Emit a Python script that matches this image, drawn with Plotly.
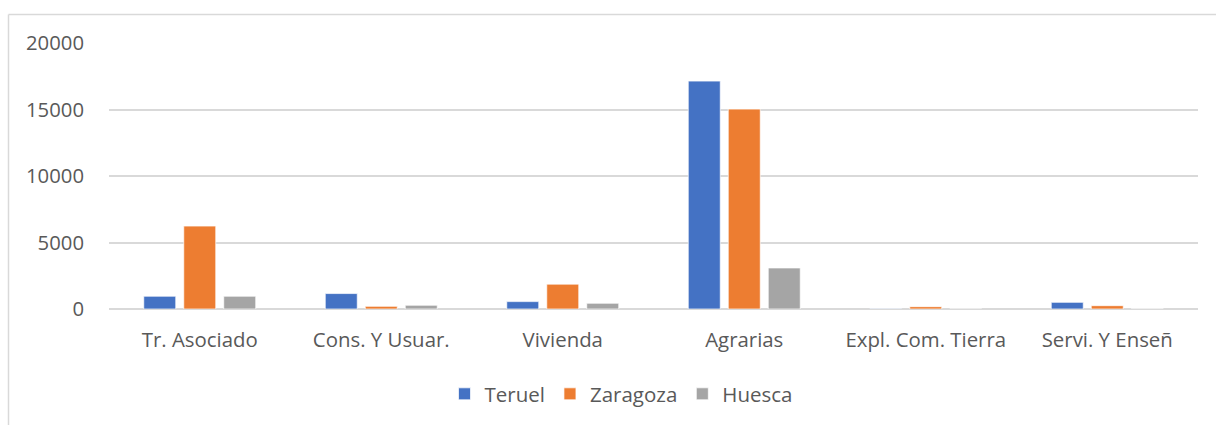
import plotly.graph_objects as go

categories = ["Tr. Asociado", "Cons. Y Usuar.", "Vivienda", "Agrarias", "Expl. Com. Tierra", "Servi. Y Enseñ"]
teruel = [960, 1160, 555, 17135, 15, 500]
zaragoza = [6235, 200, 1870, 15030, 175, 250]
huesca = [960, 280, 430, 3085, 10, 20]
series_names = ["Teruel", "Zaragoza", "Huesca"]
series_colors = ["#4472C4", "#ED7D31", "#A5A5A5"]
y_ticks = [0, 5000, 10000, 15000, 20000]

W, H = 1216, 425
L, R, T, B = 109, 18, 43, 116
pw = W - L - R
ph = H - T - B

fig = go.Figure()
for name, vals, col in zip(series_names, [teruel, zaragoza, huesca], series_colors):
    fig.add_trace(go.Bar(
        x=categories, y=vals, name=name,
        marker=dict(color=col, line=dict(color="rgba(255,255,255,0.7)", width=1)),
    ))

def px_x(p):
    return (p - L) / pw

def px_y(p):
    return (H - B - p) / ph

fig.update_layout(
    width=W, height=H,
    margin=dict(l=L, r=R, t=T, b=B, autoexpand=False),
    barmode="group", bargap=0.339, bargroupgap=0.2,
    paper_bgcolor="white", plot_bgcolor="white",
    font=dict(family="Open Sans", size=20, color="#595959"),
    showlegend=True,
    legend=dict(orientation="h", x=px_x(621), y=px_y(394), xanchor="center", yanchor="middle",
                font=dict(size=20.5, color="#595959"), itemwidth=30, traceorder="normal",
                bgcolor="rgba(0,0,0,0)"),
    xaxis=dict(showgrid=False, showline=False, ticks="", ticklabelstandoff=17,
               tickfont=dict(size=20.4, color="#595959")),
    yaxis=dict(range=[0, 20000], tickvals=y_ticks, ticktext=[str(v) for v in y_ticks],
               showgrid=True, gridcolor="#D9D9D9", gridwidth=1.5, zeroline=True,
               zerolinecolor="#D9D9D9", zerolinewidth=1.5, showline=False, ticks="",
               ticklabelstandoff=24, tickfont=dict(size=20.3, color="#595959")),
    shapes=[
        dict(type="line", xref="paper", yref="paper", x0=px_x(8.5), x1=px_x(1216), y0=px_y(14.5), y1=px_y(14.5),
             line=dict(color="#D9D9D9", width=1.5)),
        dict(type="line", xref="paper", yref="paper", x0=px_x(8.5), x1=px_x(8.5), y0=px_y(14.5), y1=px_y(425),
             line=dict(color="#D9D9D9", width=1.5)),
    ],
)

fig.write_html("out.html", config={"displayModeBar": False},
               post_script="document.body.style.margin='0';document.body.style.overflow='hidden';")
